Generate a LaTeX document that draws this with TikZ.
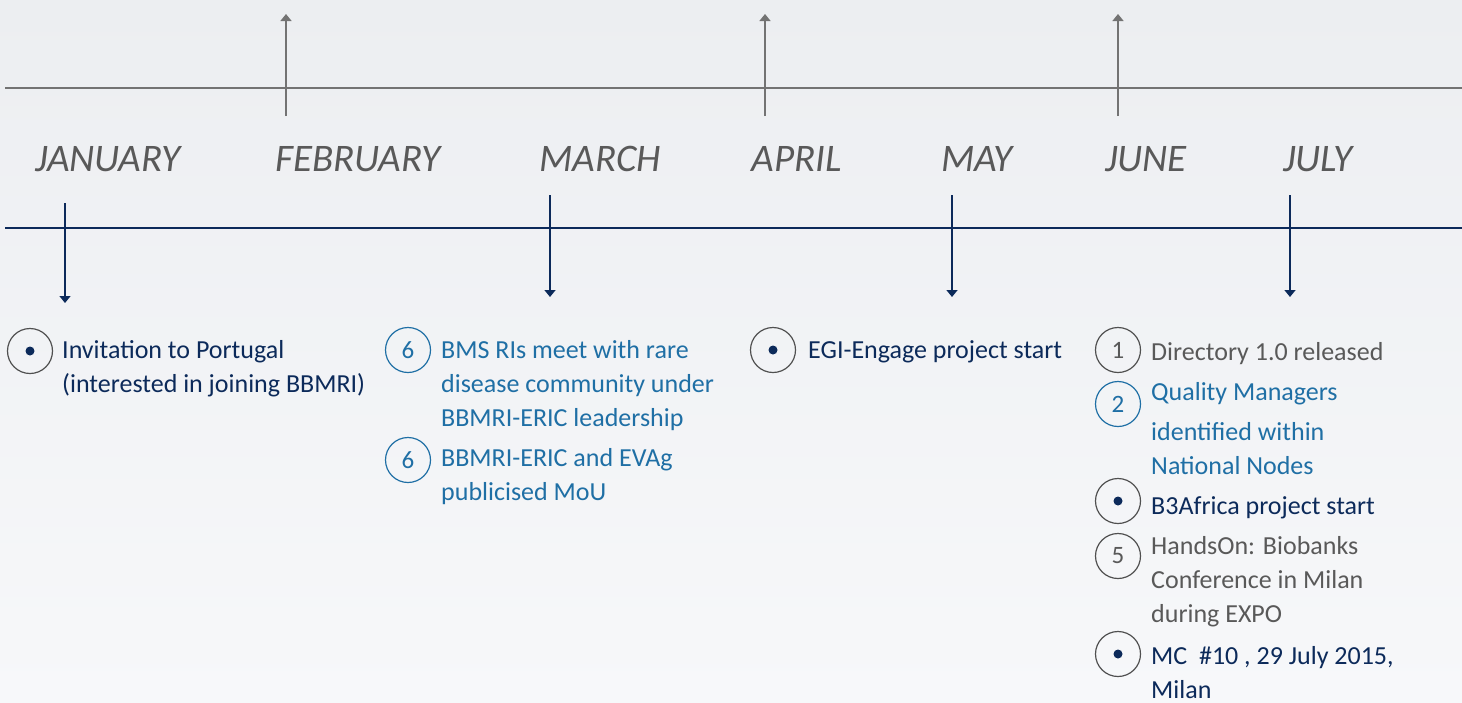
\documentclass[tikz,border=0pt]{standalone}
\usepackage{fontspec}
\setmainfont{Carlito}
\usetikzlibrary{arrows.meta}
\definecolor{bgtop}{HTML}{ECEEF1}
\definecolor{bgbot}{HTML}{F7F8FA}
\definecolor{lineGray}{HTML}{737373}
\definecolor{monthGray}{HTML}{595959}
\definecolor{navyBlue}{HTML}{0C2A5A}
\definecolor{tealBlue}{HTML}{1F6FA5}
\definecolor{textGray}{HTML}{595959}
\definecolor{ringGray}{HTML}{505050}
\tikzset{
  axisgray/.style={draw=lineGray, line width=2pt},
  axisnavy/.style={draw=navyBlue, line width=2pt},
  uparrow/.style={draw=lineGray, line width=1.5pt, -{Triangle[width=11pt,length=7pt]}},
  downarrow/.style={draw=navyBlue, line width=1.5pt, -{Triangle[width=11pt,length=7pt]}},
  month/.style={font=\fontsize{39}{44}\selectfont\itshape, text=monthGray, anchor=base, inner sep=0pt},
  ring/.style={circle, draw=ringGray, line width=1.2pt, minimum size=45pt, inner sep=0pt,
    font=\fontsize{25}{30}\selectfont, text=textGray},
  tealring/.style={ring, draw=tealBlue, text=tealBlue},
  evtext/.style={font=\fontsize{26}{34}\selectfont, align=left, anchor=base west, inner sep=0pt},
}
\newcommand{\evdot}[1]{\fill[navyBlue] (#1.center) circle (4.5pt);}
\begin{document}
\begin{tikzpicture}[x=1pt,y=-1pt]
\shade[top color=bgtop, bottom color=bgbot] (0,0) rectangle (1462,702);
\useasboundingbox (0,0) rectangle (1462,702);

% axes
\coordinate (gl) at (5,88);   \coordinate (gr) at (1462,88);
\coordinate (nl) at (5,228);  \coordinate (nr) at (1462,228);
\draw[axisgray] (gl) -- (gr);
\draw[axisnavy] (nl) -- (nr);

% months
\node[month] (jan) at (108,171) {JANUARY};
\node[month] (feb) at (358,171) {FEBRUARY};
\node[month] (mar) at (600,171) {MARCH};
\node[month] (apr) at (797,171) {APRIL};
\node[month] (may) at (977,171) {MAY};
\node[month] (jun) at (1146,171) {JUNE};
\node[month] (jul) at (1318,171) {JULY};

% upward arrows
\coordinate (fb0) at (286,116); \coordinate (fb1) at (286,14);
\coordinate (ap0) at (765,116); \coordinate (ap1) at (765,14);
\coordinate (jn0) at (1118,116); \coordinate (jn1) at (1118,14);
\draw[uparrow] (fb0) -- (fb1);
\draw[uparrow] (ap0) -- (ap1);
\draw[uparrow] (jn0) -- (jn1);

% downward arrows
\coordinate (ja0) at (65,203);  \coordinate (ja1) at (65,303);
\coordinate (mr0) at (550,195); \coordinate (mr1) at (550,297);
\coordinate (my0) at (952,195); \coordinate (my1) at (952,297);
\coordinate (jl0) at (1290,195); \coordinate (jl1) at (1290,297);
\draw[downarrow] (ja0) -- (ja1);
\draw[downarrow] (mr0) -- (mr1);
\draw[downarrow] (my0) -- (my1);
\draw[downarrow] (jl0) -- (jl1);

% January
\node[ring] (c1) at (30,351) {}; \evdot{c1}
\node[evtext, text=navyBlue] (t1) at (62,392) {Invitation to Portugal\\(interested in joining BBMRI)};

% March
\node[tealring] (c2) at (408,350) {6};
\node[evtext, text=tealBlue] (t2) at (441,426) {BMS RIs meet with rare\\disease community under\\BBMRI-ERIC leadership};
\node[tealring] (c3) at (408,460) {6};
\node[evtext, text=tealBlue] (t3) at (441,500) {BBMRI-ERIC and EVAg\\publicised MoU};

% May
\node[ring] (c4) at (773,350) {}; \evdot{c4}
\node[evtext, text=navyBlue] (t4) at (808,358) {EGI-Engage project start};

% July
\node[ring] (c5) at (1118,350) {1};
\node[evtext, text=textGray] (t5) at (1151,360) {Directory 1.0 released};
\node[tealring] (c6) at (1118,404) {2};
\node[evtext, text=tealBlue] (t6) at (1151,474) {Quality Managers\\[6pt]identified within\\National Nodes};
\node[ring] (c7) at (1118,501) {}; \evdot{c7}
\node[evtext, text=navyBlue] (t7) at (1151,514) {B3Africa project start};
\node[ring] (c8) at (1118,556) {5};
\node[evtext, text=textGray] (t8) at (1151,622) {HandsOn: Biobanks\\Conference in Milan\\during EXPO};
\node[ring] (c9) at (1118,654) {}; \evdot{c9}
\node[evtext, text=navyBlue] (t9) at (1151,698) {MC~~\#10 , 29 July 2015,\\Milan};
\end{tikzpicture}
\end{document}
